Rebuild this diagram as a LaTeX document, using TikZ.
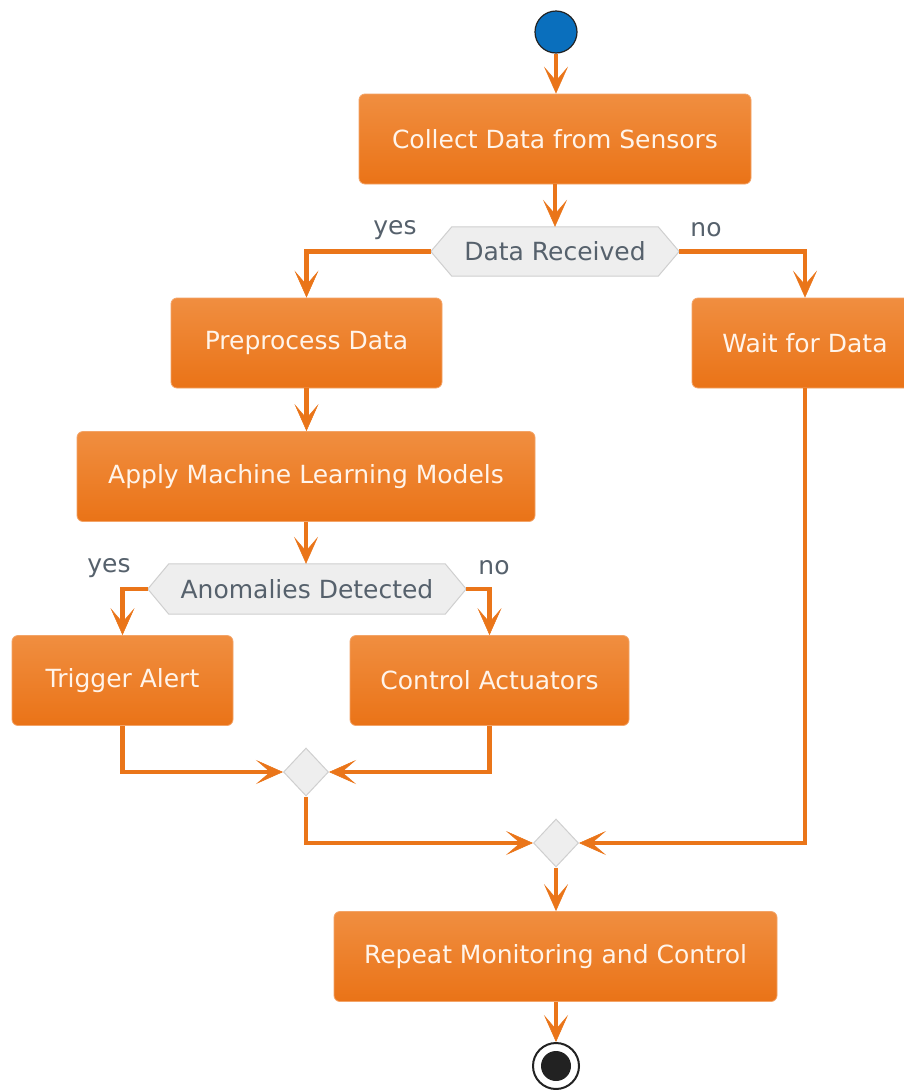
\documentclass[tikz,border=0pt]{standalone}
\usepackage{fontspec}
\setmainfont{DejaVu Sans}
\usetikzlibrary{arrows.meta,shapes.geometric,calc}
\definecolor{boxtop}{HTML}{F08E40}
\definecolor{boxbot}{HTML}{EA7317}
\definecolor{boxedge}{HTML}{F3A468}
\definecolor{boxtext}{HTML}{FFF4EA}
\definecolor{flowc}{HTML}{EA7519}
\definecolor{decfill}{HTML}{EEEEEE}
\definecolor{decedge}{HTML}{CFCFCF}
\definecolor{dectext}{HTML}{56616C}
\definecolor{startblue}{HTML}{0A6FBD}
\definecolor{darkc}{HTML}{222222}
\pgfdeclarelayer{bg}
\pgfsetlayers{bg,main}
\tikzset{
  stepbox/.style={rectangle, rounded corners=6pt, top color=boxtop, bottom color=boxbot,
    draw=boxedge, line width=0.8pt, text=boxtext, font=\fontsize{25}{29}\selectfont,
    minimum height=90pt, inner sep=0pt},
  dectxt/.style={rectangle, inner sep=0pt, text=dectext, font=\fontsize{25}{29}\selectfont},
  hexfill/.style={fill=decfill, draw=decedge, line width=1pt},
  merge/.style={diamond, fill=decfill, draw=decedge, line width=1pt, inner sep=0pt,
    minimum width=45pt, minimum height=48pt},
  lbl/.style={text=dectext, font=\fontsize{25}{29}\selectfont, inner sep=0pt},
  flow/.style={draw=flowc, line width=4.5pt,
    -{Stealth[length=27pt,width=24pt,inset=14pt,line width=0.5pt,fill=flowc]}},
}
\newcommand\hexframe[2]{%
  \begin{pgfonlayer}{bg}
  \path[hexfill] (#1.west) -- ([xshift=#2]#1.north west) -- ([xshift=-#2]#1.north east)
    -- (#1.east) -- ([xshift=-#2]#1.south east) -- ([xshift=#2]#1.south west) -- cycle;
  \end{pgfonlayer}}
\begin{document}
\begin{tikzpicture}[x=1pt,y=-1pt]
\useasboundingbox (0,0) rectangle (904,1090);
\begin{pgfonlayer}{bg}
\fill[white] (0,0) rectangle (904,1090);
\end{pgfonlayer}

\node[circle, fill=startblue, draw=darkc, line width=1.2pt, minimum size=42pt, inner sep=0pt] (start) at (556,32) {};
\node[stepbox, minimum width=392pt] (collect) at (555,139) {Collect Data from Sensors};
\node[dectxt, minimum width=248pt, minimum height=49pt] (d1) at (555,251.5) {Data Received};
\hexframe{d1}{21pt}
\node[stepbox, minimum width=271pt] (pre) at (306.5,343) {Preprocess Data};
\node[stepbox, minimum width=226pt] (wait) at (805,343) {Wait for Data};
\node[stepbox, minimum width=458pt] (apply) at (306,476.5) {Apply Machine Learning Models};
\node[dectxt, minimum width=318pt, minimum height=50pt] (d2) at (307,589) {Anomalies Detected};
\hexframe{d2}{21pt}
\node[stepbox, minimum width=221pt] (trig) at (122.5,680.5) {Trigger Alert};
\node[stepbox, minimum width=279pt] (ctrl) at (489.5,680.5) {Control Actuators};
\node[merge] (m1) at (306,772) {};
\node[merge] (m2) at (556,843) {};
\node[stepbox, minimum width=443pt] (rep) at (555.5,956.5) {Repeat Monitoring and Control};
\node[circle, fill=white, draw=darkc, line width=2pt, minimum size=46pt, inner sep=0pt] (end) at (556,1066) {};
\node[circle, fill=darkc, minimum size=30pt, inner sep=0pt] at (end.center) {};

\node[lbl] (y1) at (395,230) {yes};
\node[lbl] (n1) at (706,230) {no};
\node[lbl] (y2) at (109,568) {yes};
\node[lbl] (n2) at (494,568) {no};

\draw[flow] (start.south) -- (collect.north -| start.south);
\draw[flow] (collect) -- (d1.north -| collect);
\draw[flow] (d1.west) -| (pre.north);
\draw[flow] (d1.east) -| (wait.north);
\draw[flow] (pre) -- (apply.north -| pre);
\draw[flow] (apply.south) -- (d2.north -| apply.south);
\draw[flow] (d2.west) -| (trig.north);
\draw[flow] (d2.east) -| (ctrl.north);
\draw[flow] (trig.south) |- (m1.west);
\draw[flow] (ctrl.south) |- (m1.east);
\draw[flow] (m1.south) |- (m2.west);
\draw[flow] (wait.south) |- (m2.east);
\draw[flow] (m2.south) -- (rep.north -| m2.south);
\draw[flow] (rep.south -| end) -- (end.north);
\end{tikzpicture}
\end{document}
